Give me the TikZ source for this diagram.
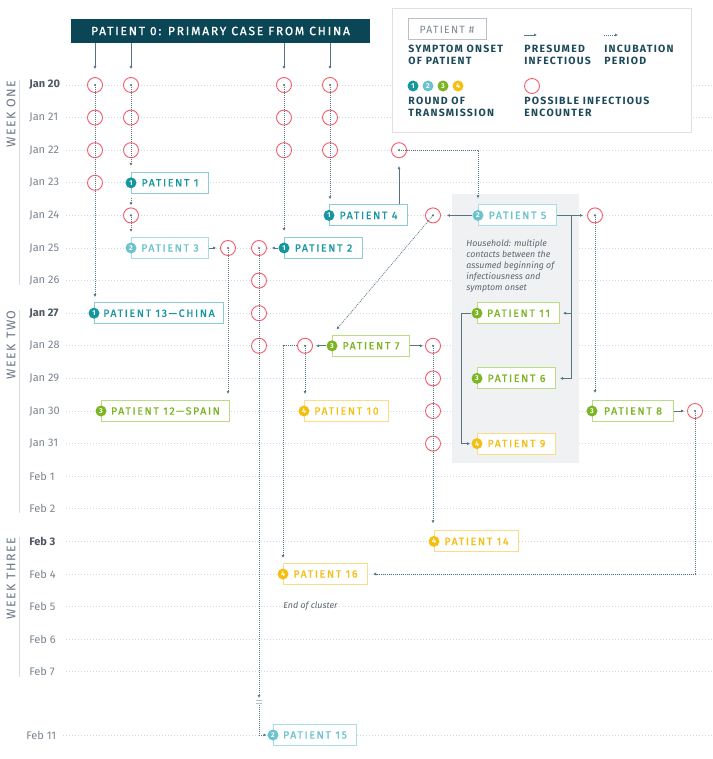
\documentclass[tikz,border=0pt]{standalone}
\usepackage{fontspec}
\setmainfont{Fira Sans}
\newfontfamily\spacedfont[LetterSpace=12]{Fira Sans}
\newfontfamily\boxfont[LetterSpace=16,FakeBold=1.2]{Fira Sans}
\newfontfamily\titlefont[LetterSpace=15,FakeBold=1]{Fira Sans}
\usetikzlibrary{arrows.meta,calc,positioning}
\definecolor{titlebg}{HTML}{0B4656}
\definecolor{linkgray}{HTML}{557585}
\definecolor{encred}{HTML}{F25C6B}
\definecolor{gridgray}{HTML}{D3D8DD}
\definecolor{dategray}{HTML}{7A8490}
\definecolor{datedark}{HTML}{4D5763}
\definecolor{weekgray}{HTML}{6A7684}
\definecolor{weekline}{HTML}{D8DCE0}
\definecolor{hhgray}{HTML}{EFF1F3}
\definecolor{hhtext}{HTML}{5E6670}
\definecolor{legtext}{HTML}{1D4A5A}
\definecolor{legline}{HTML}{DDE1E5}
\definecolor{keygray}{HTML}{B9C0C8}
\definecolor{keytext}{HTML}{7D8894}
\definecolor{rnd1}{HTML}{16979F}
\definecolor{rnd1lt}{HTML}{8ACDD5}
\definecolor{rnd2}{HTML}{6CC3CE}
\definecolor{rnd2lt}{HTML}{AADCE3}
\definecolor{rnd3}{HTML}{7DB424}
\definecolor{rnd3lt}{HTML}{BCDB85}
\definecolor{rnd4}{HTML}{F5BF12}
\definecolor{rnd4lt}{HTML}{FBDD87}

\begin{document}
\begin{tikzpicture}[
    x = 1pt, y = -1pt,
    line width = 0.8pt,
    grid line/.style = {draw=gridgray, line width=0.7pt, dash pattern=on 0.7pt off 2.3pt},
    date/.style   = {anchor=west, inner sep=0pt, text=dategray, font=\fontsize{11}{13}\selectfont},
    enc/.style    = {circle, draw=encred, fill=white, line width=0.9pt, minimum size=15pt, inner sep=0pt},
    pbox/.style   = {draw=rnd#1lt, fill=white, line width=1pt, minimum height=21pt, inner sep=0pt,
                     anchor=west, text=rnd#1, font=\boxfont\fontsize{10.5}{12}\selectfont},
    badge/.style  = {circle, fill=rnd#1, text=white, minimum size=11pt, inner sep=0pt,
                     font=\bfseries\fontsize{7}{7}\selectfont},
    inf/.style    = {draw=linkgray, line width=0.9pt, -{Latex[length=3pt,width=3pt]}},
    inc/.style    = {inf, line width=0.7pt, dash pattern=on 1pt off 1pt},
    legtxt/.style = {anchor=base west, inner sep=0pt, text=legtext,
                     font=\spacedfont\bfseries\fontsize{10.5}{12}\selectfont},
    week/.style   = {rotate=90, anchor=east, inner sep=0pt, text=weekgray,
                     font=\spacedfont\fontsize{12.5}{14}\selectfont},
    note/.style   = {align=left, inner sep=0pt, text=hhtext, font=\itshape\fontsize{8.8}{11}\selectfont}
]
\fill[white] (0,0) rectangle (712,759);
\useasboundingbox (0,0) rectangle (712,759);

% days
\foreach[count=\i from 0] \d in {{\bfseries\color{datedark}Jan 20},Jan 21,Jan 22,Jan 23,Jan 24,Jan 25,
      Jan 26,{\bfseries\color{datedark}Jan 27},Jan 28,Jan 29,Jan 30,Jan 31,Feb 1,Feb 2,
      {\bfseries\color{datedark}Feb 3},Feb 4,Feb 5,Feb 6,Feb 7}
  { \node[date] (d\i) at (29,85+32.6*\i) {\d};
    \draw[grid line] (66,85+32.6*\i) -- (712,85+32.6*\i); }
\node[date] (d19) at (26,735) {Feb 11};
\draw[grid line] (63,735) -- (712,735);

\foreach \t/\a/\b [count=\n] in {ONE/80/285, TWO/310/513, THREE/537/677}
  { \draw[weekline, line width=1pt] (19,\a) -- (19,\b);
    \node[week] (w\n) at (11,\a) {WEEK \t}; }

\node[fill=hhgray, minimum width=127, minimum height=269, anchor=north west, inner sep=0pt]
  (house) at (452,194) {};
\node[note, anchor=north west] (housenote) at (466,239)
  {Household: multiple\\contacts between the\\assumed beginning of\\infectiousness and\\symptom onset};
\node[note, anchor=west] (endnote) at (283,0 |- d16) {End of cluster};

% legend
\node[draw=legline, fill=white, line width=1pt, minimum width=299, minimum height=124,
  anchor=north west, inner sep=0pt] (legend) at (392,8) {};
\node[draw=keygray, line width=1pt, minimum width=78, minimum height=21, inner sep=0pt,
  text=keytext, font=\spacedfont\fontsize{10.5}{12}\selectfont] (keybox) at (447,29.5) {PATIENT \#};
\coordinate (keyinf) at (524,35);
\coordinate (keyinc) at (604,35);
\draw[inf] (keyinf) -- ++(13,0);
\draw[inc] (keyinc) -- ++(14,0);
\foreach \r in {1,...,4} \node[badge=\r] (key\r) at (398+15*\r,86) {\r};
\node[enc] (keyenc) at (532,86) {};
\foreach \x/\y/\t [count=\n] in {408/53/SYMPTOM ONSET, 408/65/OF PATIENT, 524/53/PRESUMED,
    524/65/INFECTIOUS, 604/53/INCUBATION, 604/65/PERIOD, 408/105/ROUND OF,
    408/117/TRANSMISSION, 524/105/POSSIBLE INFECTIOUS, 524/117/ENCOUNTER}
  \node[legtxt] (leg\n) at (\x,\y) {\t};

\node[fill=titlebg, text=white, minimum width=299, minimum height=24, inner sep=0pt,
  font=\titlefont\fontsize{12}{14}\selectfont] (title) at (220.5,31) {PATIENT 0: PRIMARY CASE FROM CHINA};

% encounters
\foreach \n/\x/\r in {a0/95/0, a1/95/1, a2/95/2, a3/95/3, b0/131/0, b1/131/1, b2/131/2, b4/131/4,
    c0/284/0, c1/284/1, c2/284/2, d0/330/0, d1/330/1, d2/330/2, e2/399/2, f4/433/4, g4/595/4,
    h5/228/5, i5/259/5, i6/259/6, i7/259/7, i8/259/8, j8/305/8,
    k8/433/8, k9/433/9, k10/433/10, k11/433/11, m10/695/10}
  \node[enc] (\n) at (\x,0 |- d\r) {};
\foreach \n in {a0,b0,b4,c0,d0,e2,f4,g4,h5,i5,j8,k8,m10}
  \fill[linkgray] (\n) circle (1.2pt);

% patients
\foreach \n/\x/\r/\w/\c/\t in {1/131/3/77/1/PATIENT 1, 2/284/5/78/1/PATIENT 2, 3/131/5/77/2/PATIENT 3,
    4/329/4/78/1/PATIENT 4, 5/478/4/78/2/PATIENT 5, 6/477/9/78/3/PATIENT 6, 7/332/8/77/3/PATIENT 7,
    8/592/10/81/3/PATIENT 8, 9/477/11/78/4/PATIENT 9, 10/304/10/84/4/PATIENT 10,
    11/477/7/82/3/PATIENT 11, 12/101/10/128/3/PATIENT 12—SPAIN, 13/94/7/129/1/PATIENT 13—CHINA,
    14/434/14/84/4/PATIENT 14, 15/273/19/83/2/PATIENT 15, 16/283/15/84/4/PATIENT 16}
  { \node[pbox=\c, minimum width=\w] (p\n) at (\x,0 |- d\r) {\t};
    \node[badge=\c] (r\n) at (p\n.west) {\c}; }

% presumed infectious
\foreach \n in {a0,b0,c0,d0}
  \draw[inf, shorten >=8pt] (title.south -| \n) -- (\n.north);
\draw[inf, shorten >=8pt] (e2 |- p4.north) -- (e2.south);
\draw[inf, shorten >=4pt] (p3.east) -- (h5.west);
\draw[inf, shorten >=5pt] (r2.west) -- (i5.east);
\draw[inf, shorten >=6pt] (r5.west) -- (f4.east);
\draw[inf, shorten >=4pt] (p5.east) -- (g4.west);
\coordinate (split5) at (571,0 |- p5.east);
\draw[inf, shorten >=3pt] (split5) |- (p11.east);
\draw[inf, shorten >=4pt] (split5) |- (p6.east);
\coordinate (split11) at (461,0 |- p11.east);
\draw[inf, shorten >=1pt] (r11.west) -- (split11) |- (r9.west);
\draw[inf, shorten >=3pt] (r7.west) -- (j8.east);
\draw[inf, shorten >=2pt] (p7.east) -- (k8.west);
\draw[inf, shorten >=3pt] (p8.east) -- (m10.west);

% incubation
\draw[inc, shorten >=5pt] (a0.center) -- (a0 |- p13.north);
\draw[inc, shorten >=6pt] (b0.center) -- (b0 |- p1.north);
\draw[inc, shorten <=4pt, shorten >=2pt] (b4 |- p1.south) -- (b4.north);
\draw[inc, shorten >=5pt] (b4.center) -- (b4 |- p3.north);
\draw[inc, shorten >=6pt] (c0.center) -- (c0 |- p2.north);
\draw[inc, shorten >=5pt] (d0.center) -- (d0 |- p4.north);
\draw[inc, shorten >=6pt] (e2.center) -| (p5.north west);
\draw[inc, shorten >=7pt] (f4.center) -- (p7.north west);
\draw[inc, shorten >=7pt] (g4.center) -- (g4 |- p8.north);
\draw[inc, shorten >=5pt] (m10.center) |- (p16.east);
\draw[inc, shorten >=6pt] (h5.center) -- (h5 |- p12.north);
\draw[inc, shorten >=6pt] (j8.center) -- (j8 |- p10.north);
\draw[inc, shorten >=5pt] (j8.west) -| (p16.north west);
\draw[inc, shorten >=7pt] (k8.center) -- (k8 |- p14.north);
\coordinate (cut1) at (259,698);
\coordinate (cut2) at (259,705);
\draw[inc] (i5.center) -- (cut1);
\draw[inc, shorten >=0.5pt] (cut2) |- (r15.west);
\draw[linkgray!45, line width=0.6pt] (256,700.5) -- (262,700.5) (256,703) -- (262,703);

\end{tikzpicture}
\end{document}
